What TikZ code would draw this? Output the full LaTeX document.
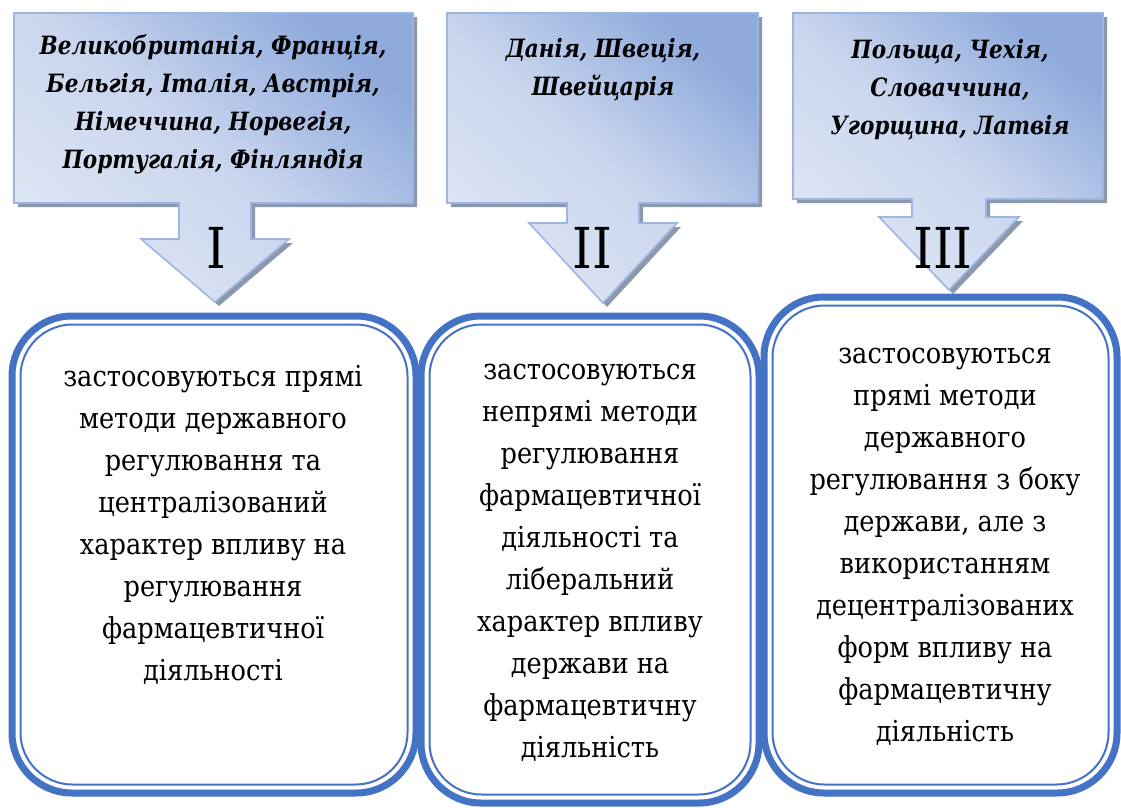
\documentclass[tikz,border=0pt]{standalone}
\usepackage{fontspec}
\setmainfont{DejaVu Serif}[Scale=0.9, UprightFeatures={FakeStretch=0.89}, BoldItalicFeatures={FakeStretch=0.855}]
\usepackage{tikz}
\usetikzlibrary{calc,positioning}

\definecolor{calloutlight}{HTML}{DEE6F4}
\definecolor{calloutmid}{HTML}{CAD6EE}
\definecolor{calloutdark}{HTML}{8EAADB}
\definecolor{calloutline}{HTML}{9DB5E0}
\definecolor{shadowgray}{HTML}{8C98AC}
\definecolor{frameblue}{HTML}{4472C4}

% arrow-shaped callout: x1, x2, bottom, centre, stem half, head half, head y, tip y
\newcommand{\calloutpath}[8]{(#1,13) -- (#2,13) -- (#2,#3) -- ({#4+#5},#3) -- ({#4+#5},#7)
  -- ({#4+#6},#7) -- (#4,#8) -- ({#4-#6},#7) -- ({#4-#5},#7) -- ({#4-#5},#3) -- (#1,#3) -- cycle}

\tikzset{
  callout/.style={draw=calloutline, line width=1.2pt, top color=calloutdark, bottom color=calloutlight, middle color=calloutmid, shading angle=-40},
  calloutshadow/.style={fill=shadowgray},
  framebox/.style={draw=frameblue, line width=5.25pt, rounded corners=45pt},
  frameinner/.style={draw=frameblue, line width=1.5pt, rounded corners=39pt},
  countries/.style={font=\bfseries\itshape\fontsize{21}{28.5}\selectfont, align=center},
  methods/.style={font=\fontsize{24}{31.5}\selectfont, align=center},
  numeral/.style={font=\fontsize{47}{50}\selectfont, anchor=base},
}

\begin{document}
\begin{tikzpicture}[x=0.75pt, y=-0.75pt]
  \useasboundingbox (0,0) rectangle (1121,807);
  % \draw[color=gray,step=50, help lines,opacity=0.3] (0,0) grid (1121,807); %help grid

  % callouts
  \fill[calloutshadow, shift={(4,4)}] \calloutpath{14}{413}{203}{215}{36}{74}{239}{302};
  \draw[callout] \calloutpath{14}{413}{203}{215}{36}{74}{239}{302};
  \fill[calloutshadow, shift={(4,4)}] \calloutpath{447}{758}{203}{603}{36}{74}{223}{303};
  \draw[callout] \calloutpath{447}{758}{203}{603}{36}{74}{223}{303};
  \fill[calloutshadow, shift={(4,4)}] \calloutpath{793}{1103}{199}{949}{37}{70}{217}{290};
  \draw[callout] \calloutpath{793}{1103}{199}{949}{37}{70}{217}{290};

  \node[countries] (c1) at (213,104) {Великобританія, Франція,\\Бельгія, Італія, Австрія,\\Німеччина, Норвегія,\\Португалія, Фінляндія};
  \node[countries] (c2) at (603,70) {Данія, Швеція,\\Швейцарія};
  \node[countries] (c3) at (950,90) {Польща, Чехія,\\Словаччина,\\Угорщина, Латвія};

  \node[numeral] (n1) at (216,268) {I};
  \node[numeral] (n2) at (592,268) {II};
  \node[numeral] (n3) at (943,268) {III};

  % frames
  \draw[framebox] (12,316) rectangle (416,793);
  \draw[frameinner] (20.5,324.5) rectangle (407.5,784.5);
  \draw[framebox] (421,316) rectangle (759,803);
  \draw[frameinner] (429.5,324.5) rectangle (750.5,794.5);
  \draw[framebox] (764,297) rectangle (1117,793);
  \draw[frameinner] (772.5,305.5) rectangle (1108.5,784.5);

  \node[methods] (m1) at (213,525) {застосовуються прямі\\методи державного\\регулювання та\\централізований\\характер впливу на\\регулювання\\фармацевтичної\\діяльності};
  \node[methods] (m2) at (590,563) {застосовуються\\непрямі методи\\регулювання\\фармацевтичної\\діяльності та\\ліберальний\\характер впливу\\держави на\\фармацевтичну\\діяльність};
  \node[methods] (m3) at (945,547) {застосовуються\\прямі методи\\державного\\регулювання з боку\\держави, але з\\використанням\\децентралізованих\\форм впливу на\\фармацевтичну\\діяльність};
\end{tikzpicture}
\end{document}
